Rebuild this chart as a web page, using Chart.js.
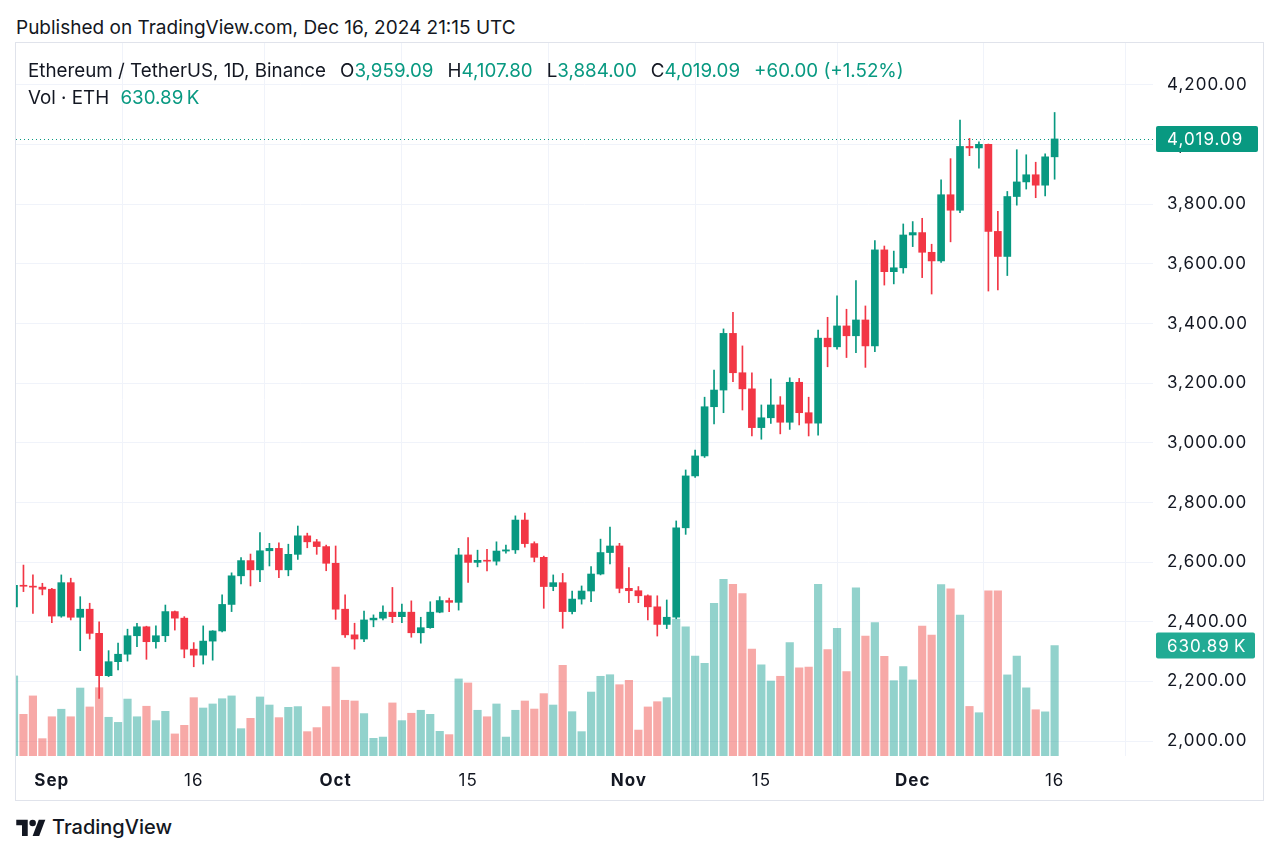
<!DOCTYPE html>
<html>
<head>
<meta charset="utf-8">
<script src="https://cdn.jsdelivr.net/npm/chart.js@4.4.1/dist/chart.umd.min.js"></script>
<style>
body { margin: 0; background: #fff; font-family: Inter, "Noto Sans", sans-serif; color: #131722; }
#page { position: relative; width: 1280px; height: 856px; overflow: hidden; }
#pub { position: absolute; left: 16px; top: 16px; font-size: 19px; }
#frame { position: absolute; left: 15px; top: 42px; width: 1249px; height: 759px; border: 1px solid #e0e3eb; box-sizing: border-box; }
#box { position: absolute; left: 16px; top: 43px; width: 1246px; height: 757px; }
#legend { position: absolute; left: 28px; top: 57px; font-size: 18.8px; line-height: 27px; white-space: nowrap; }
#legend .g { color: #089981; }
#legend .sp { margin-left: 14px; }
#logo { position: absolute; left: 16px; top: 815px; display: flex; align-items: center; font-size: 20px; font-weight: 500; }
#logo svg { margin-right: 6px; }
</style>
</head>
<body>
<div id="page">
  <div id="pub">Published on TradingView.com, Dec 16, 2024 21:15 UTC</div>
  <div id="frame"></div>
  <div id="box"><canvas id="myChart"></canvas></div>
  <div id="legend"></div>
  <div id="logo">
    <svg width="30" height="18" viewBox="0 0 36 22"><path d="M14 22H7V9H0V2h14z" fill="#131722"/><circle cx="20" cy="6" r="4" fill="#131722"/><path d="M28 22h-8l7.5-20h8z" fill="#131722"/></svg>
    <span>TradingView</span>
  </div>
</div>
<script>
// daily candles ETH/USDT, 28 Aug - 16 Dec 2024
const startDate = '2024-08-28';
const open = [2450,2522,2519,2516,2509,2419,2531,2415,2442,2361,
  2219,2266,2291,2353,2383,2333,2353,2434,2412,2308,
  2288,2335,2369,2458,2554,2605,2574,2638,2646,2574,
  2626,2688,2668,2652,2596,2442,2356,2342,2406,2412,
  2432,2417,2432,2363,2380,2432,2471,2465,2624,2599,
  2606,2603,2637,2641,2741,2662,2616,2518,2531,2434,
  2476,2503,2560,2632,2654,2512,2504,2487,2450,2391,
  2415,2715,2889,2956,3121,3177,3367,3235,3181,3051,
  3084,3127,3069,3203,3101,3066,3351,3322,3392,3359,
  3412,3325,3647,3574,3587,3697,3705,3639,3610,3832,
  3780,3994,3989,4001,3709,3625,3826,3875,3899,3864,
  3959.09];
const high = [2556,2590,2557,2529,2512,2557,2546,2484,2462,2400,
  2303,2328,2375,2395,2385,2386,2456,2436,2417,2330,
  2386,2370,2490,2564,2615,2627,2699,2663,2665,2660,
  2721,2697,2676,2657,2654,2490,2395,2436,2423,2453,
  2515,2459,2470,2415,2467,2484,2479,2646,2682,2640,
  2643,2668,2657,2755,2764,2668,2620,2557,2562,2503,
  2520,2585,2677,2717,2663,2582,2518,2490,2487,2473,
  2738,2909,2976,3153,3244,3382,3438,3325,3235,3127,
  3214,3155,3218,3216,3153,3378,3421,3493,3448,3544,
  3459,3678,3660,3643,3734,3742,3753,3666,3882,3953,
  4082,4021,4009,4002,3776,3843,3983,3966,3941,3969,
  4107.80];
const low = [2420,2501,2428,2490,2397,2415,2406,2303,2342,2143,
  2216,2238,2268,2316,2274,2311,2333,2372,2279,2249,
  2258,2271,2366,2434,2527,2520,2534,2587,2548,2554,
  2609,2648,2626,2571,2408,2347,2308,2333,2383,2406,
  2397,2397,2348,2328,2378,2430,2434,2439,2532,2584,
  2570,2590,2630,2629,2650,2601,2445,2504,2378,2426,
  2459,2467,2557,2594,2497,2464,2464,2406,2352,2377,
  2410,2693,2884,2951,3063,3101,3205,3110,3023,3012,
  3065,3030,3045,3060,3023,3026,3255,3314,3286,3302,
  3253,3306,3529,3533,3569,3658,3554,3499,3605,3674,
  3772,3963,3921,3509,3513,3561,3797,3851,3822,3828,
  3884.00];
const close = [2522,2519,2516,2509,2419,2531,2415,2442,2361,2219,
  2266,2291,2353,2383,2333,2353,2434,2412,2308,2288,
  2335,2369,2458,2554,2605,2574,2638,2646,2574,2626,
  2688,2668,2652,2596,2442,2356,2342,2406,2412,2432,
  2417,2432,2363,2380,2432,2471,2465,2624,2599,2606,
  2603,2637,2641,2741,2662,2616,2518,2531,2434,2476,
  2503,2560,2632,2654,2512,2504,2487,2450,2391,2415,
  2715,2889,2956,3121,3177,3367,3235,3181,3051,3084,
  3127,3069,3203,3101,3066,3351,3322,3392,3359,3412,
  3325,3647,3574,3587,3697,3705,3639,3610,3832,3780,
  3994,3989,4001,3709,3625,3826,3875,3899,3864,3959.09,
  4019.09];
// volume in thousands of ETH
const volumeK = [457,238,343,99,224,267,224,388,280,390,
  221,192,325,224,284,202,255,126,175,333,
  274,297,327,343,156,215,337,291,219,278,
  282,139,162,282,508,318,314,242,101,108,
  303,202,244,261,238,141,122,440,417,261,
  224,297,108,261,314,268,356,291,518,253,
  139,365,455,464,407,432,148,280,310,333,
  782,737,571,529,872,1009,980,927,611,521,
  428,455,647,504,508,980,607,729,482,960,
  685,762,569,430,511,434,742,690,978,954,
  804,283,247,943,943,463,571,389,264,252,
  630.89];

const xTickDates = ['2024-09-01','2024-09-16','2024-10-01','2024-10-15','2024-11-01','2024-11-15','2024-12-01','2024-12-16'];
const xTickLabels = ['Sep','16','Oct','15','Nov','15','Dec','16'];
const priceTicks = [2000,2200,2400,2600,2800,3000,3200,3400,3600,3800,4000,4200];

const dates = [];
for (let i = 0; i < close.length; i++) {
    const d = new Date(startDate + 'T00:00:00Z');
    d.setUTCDate(d.getUTCDate() + i);
    dates.push(d.toISOString().slice(0, 10));
}

const UP = '#089981', DOWN = '#f23645';
const UP_VOL = 'rgba(38,166,154,0.5)', DOWN_VOL = 'rgba(239,83,80,0.5)';
const fmt = v => v.toLocaleString('en-US', {minimumFractionDigits: 2, maximumFractionDigits: 2});
const FONT = 'Inter, "Noto Sans", sans-serif';

// legend
const n = close.length - 1;
const chg = close[n] - close[n - 1];
const pct = chg / close[n - 1] * 100;
document.getElementById('legend').innerHTML =
    '<div>Ethereum / TetherUS, 1D, Binance' +
    '<span class="sp">O</span><span class="g">' + fmt(open[n]) + '</span>' +
    '<span class="sp">H</span><span class="g">' + fmt(high[n]) + '</span>' +
    '<span class="sp">L</span><span class="g">' + fmt(low[n]) + '</span>' +
    '<span class="sp">C</span><span class="g">' + fmt(close[n]) + '</span>' +
    '<span class="sp g">+' + chg.toFixed(2) + ' (+' + pct.toFixed(2) + '%)</span></div>' +
    '<div>Vol · ETH <span class="g" style="margin-left:6px">' + volumeK[n].toFixed(2) + '\u2009K</span></div>';

const up = close.map((c, i) => c >= open[i]);

const spacing = {
    id: 'spacing',
    beforeDraw(chart) { chart.ctx.letterSpacing = '1px'; }
};

const lastLabels = {
    id: 'lastLabels',
    afterDraw(chart) {
        const c = chart.ctx, area = chart.chartArea;
        const y = chart.scales.y.getPixelForValue(close[n]);
        c.save();
        c.strokeStyle = UP;
        c.lineWidth = 1;
        c.setLineDash([1, 3]);
        c.beginPath();
        c.moveTo(area.left, Math.round(y) + 0.5);
        c.lineTo(area.right, Math.round(y) + 0.5);
        c.stroke();
        c.setLineDash([]);

        function tag(yy, text, color, w) {
            c.fillStyle = color;
            c.beginPath();
            c.roundRect(area.right + 3, yy - 13, w, 26, 2);
            c.fill();
            c.fillStyle = '#fff';
            c.font = '17px ' + FONT;
            c.textBaseline = 'middle';
            c.textAlign = 'left';
            c.fillText(text, area.right + 14, yy + 1);
        }
        tag(y, fmt(close[n]), UP, 102);
        const vy = chart.scales.vol.getPixelForValue(volumeK[n]);
        tag(vy, volumeK[n].toFixed(2) + '\u2009K', '#22ab94', 99);
        c.restore();
    }
};

const ctx = document.getElementById('myChart').getContext('2d');
const myChart = new Chart(ctx, {
    type: 'bar',
    data: {
        datasets: [{
            label: 'wick',
            data: dates.map((d, i) => ({x: i, y: [low[i], high[i]]})),
            backgroundColor: up.map(u => u ? UP : DOWN),
            barThickness: 1,
            grouped: false,
            order: 2
        }, {
            label: 'body',
            data: dates.map((d, i) => ({x: i, y: [open[i], close[i]]})),
            backgroundColor: up.map(u => u ? UP : DOWN),
            barThickness: 7,
            minBarLength: 1,
            grouped: false,
            order: 1
        }, {
            label: 'volume',
            data: dates.map((d, i) => ({x: i, y: volumeK[i]})),
            backgroundColor: up.map(u => u ? UP_VOL : DOWN_VOL),
            barThickness: 7.5,
            grouped: false,
            yAxisID: 'vol',
            order: 3
        }]
    },
    options: {
        responsive: true,
        maintainAspectRatio: false,
        animation: false,
        layout: { padding: 0 },
        scales: {
            x: {
                type: 'linear',
                offset: false,
                min: 0.2114,
                max: 120.40,
                grid: { color: '#f0f3fa', drawTicks: false },
                border: { display: false },
                afterBuildTicks: s => { s.ticks = xTickDates.map(d => ({value: dates.indexOf(d)})); },
                afterFit: s => { s.height = 44; s.paddingLeft = 0; s.paddingRight = 0; },
                ticks: {
                    autoSkip: false,
                    maxRotation: 0,
                    padding: 15,
                    color: '#131722',
                    callback: (v, i) => xTickLabels[i],
                    font: c => ({ family: FONT, size: 17, weight: /^[A-Z]/.test(xTickLabels[c.index] || '') ? 'bold' : 'normal' })
                }
            },
            y: {
                position: 'right',
                min: 1949.7,
                max: 4340.85,
                grid: { color: '#f0f3fa', drawTicks: false },
                border: { display: false },
                afterBuildTicks: s => { s.ticks = priceTicks.map(v => ({value: v})); },
                afterFit: s => { s.width = 109; s.paddingTop = 0; s.paddingBottom = 0; },
                ticks: {
                    padding: 14,
                    color: '#131722',
                    font: { family: FONT, size: 17 },
                    callback: v => fmt(v)
                }
            },
            vol: {
                display: false,
                position: 'left',
                min: 0,
                max: 4070
            }
        },
        plugins: {
            legend: { display: false },
            tooltip: { enabled: false }
        }
    },
    plugins: [spacing, lastLabels]
});
</script>
</body>
</html>
